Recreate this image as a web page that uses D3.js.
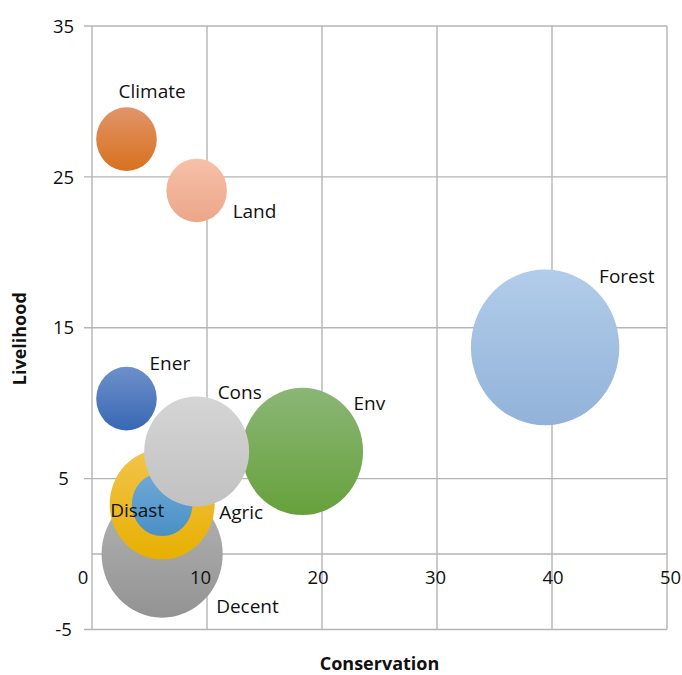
<!DOCTYPE html>
<html>
<head>
<meta charset="utf-8">
<script src="https://cdn.jsdelivr.net/npm/d3@7"></script>
<style>
  html, body { margin: 0; padding: 0; background: #fff; }
  svg { display: block; }
  text { font-family: "Open Sans", "Noto Sans", sans-serif; fill: #111; }
</style>
</head>
<body>
<svg id="chart" width="682" height="675"></svg>
<script>
// ---- data (draw order: back to front) ----
const categories   = ["Climate", "Land", "Ener", "Forest", "Decent", "Disast", "Agric", "Env", "Cons"];
const conservation = [3.0, 9.1, 3.0, 39.4, 6.1, 6.1, 6.1, 18.3, 9.1];
const livelihood   = [27.5, 24.1, 10.3, 13.7, 0.0, 3.3, 3.3, 6.8, 6.8];
const bubbleSize   = [2, 2, 2, 12, 8, 6, 2, 8, 6];
const xTickValues  = [0, 10, 20, 30, 40, 50];
const yTickValues  = [-5, 5, 15, 25, 35];
const xTitle = "Conservation";
const yTitle = "Livelihood";

// ---- styling / layout (not data) ----
const colorTop    = ["#e2946a", "#f6c1a8", "#6e90cb", "#b2cdea", "#b4b4b4", "#f2c44c", "#70a9d7", "#8bb676", "#d5d5d5"];
const colorBottom = ["#d7721d", "#eca68a", "#3868b3", "#92b2d9", "#939393", "#e7b000", "#4990c6", "#66a13b", "#c1c1c1"];
// label offset from bubble centre: [dx to text start, dy to baseline]
const labelOffset = [[-8, -41], [36, 28], [23, -29], [54, -64], [54, 59], [-52, 13], [57, 15], [51, -41], [21, -52]];

const svg = d3.select("#chart");
const x = d3.scaleLinear().domain([0, 50]).range([92, 667]);
const y = d3.scaleLinear().domain([-5, 35]).range([629.5, 26]);
const r = d3.scaleSqrt().domain([0, 12]).range([0, 74.2]);
const aspect = 1.05;
const gridColor = "#b5b5b5";

// horizontal gridlines (with small outside ticks)
svg.append("g").selectAll("line").data(yTickValues).join("line")
  .attr("x1", 84).attr("x2", x(50))
  .attr("y1", d => y(d)).attr("y2", d => y(d))
  .attr("stroke", gridColor).attr("stroke-width", 1.4);

// vertical gridlines + y axis
svg.append("g").selectAll("line").data(xTickValues).join("line")
  .attr("x1", d => x(d)).attr("x2", d => x(d))
  .attr("y1", y(35)).attr("y2", y(-5))
  .attr("stroke", gridColor).attr("stroke-width", 1.4);

// x axis line at y = 0
svg.append("line")
  .attr("x1", x(0)).attr("x2", x(50)).attr("y1", y(0)).attr("y2", y(0))
  .attr("stroke", gridColor).attr("stroke-width", 1.6);

// gradients
const defs = svg.append("defs");
categories.forEach((c, i) => {
  const g = defs.append("linearGradient").attr("id", "grad" + i)
    .attr("x1", 0).attr("y1", 0).attr("x2", 0).attr("y2", 1);
  g.append("stop").attr("offset", "0%").attr("stop-color", colorTop[i]);
  g.append("stop").attr("offset", "100%").attr("stop-color", colorBottom[i]);
});

// bubbles
const idx = d3.range(categories.length);
svg.append("g").selectAll("ellipse").data(idx).join("ellipse")
  .attr("cx", i => x(conservation[i]))
  .attr("cy", i => y(livelihood[i]))
  .attr("rx", i => r(bubbleSize[i]))
  .attr("ry", i => r(bubbleSize[i]) * aspect)
  .attr("fill", i => `url(#grad${i})`);

// y tick labels
svg.append("g").selectAll("text").data(yTickValues).join("text")
  .attr("x", 63.5).attr("y", d => y(d))
  .attr("dy", "0.36em")
  .attr("text-anchor", "middle")
  .attr("font-size", 18.5)
  .text(d => d);

// x tick labels
svg.append("g").selectAll("text").data(xTickValues).join("text")
  .attr("x", d => x(d) - 9 + d * 0.25).attr("y", 583.5)
  .attr("text-anchor", "middle")
  .attr("font-size", 18.5)
  .text(d => d);

// data labels
svg.append("g").selectAll("text").data(idx).join("text")
  .attr("x", i => x(conservation[i]) + labelOffset[i][0])
  .attr("y", i => y(livelihood[i]) + labelOffset[i][1])
  .attr("font-size", 19)
  .text(i => categories[i]);

// axis titles
svg.append("text")
  .attr("x", (x(0) + x(50)) / 2).attr("y", 670)
  .attr("text-anchor", "middle")
  .attr("font-size", 18).attr("font-weight", "bold")
  .text(xTitle);

svg.append("text")
  .attr("transform", `translate(26, ${(y(35) + y(-5)) / 2 + 11}) rotate(-90)`)
  .attr("text-anchor", "middle")
  .attr("font-size", 18).attr("font-weight", "bold")
  .text(yTitle);
</script>
</body>
</html>
